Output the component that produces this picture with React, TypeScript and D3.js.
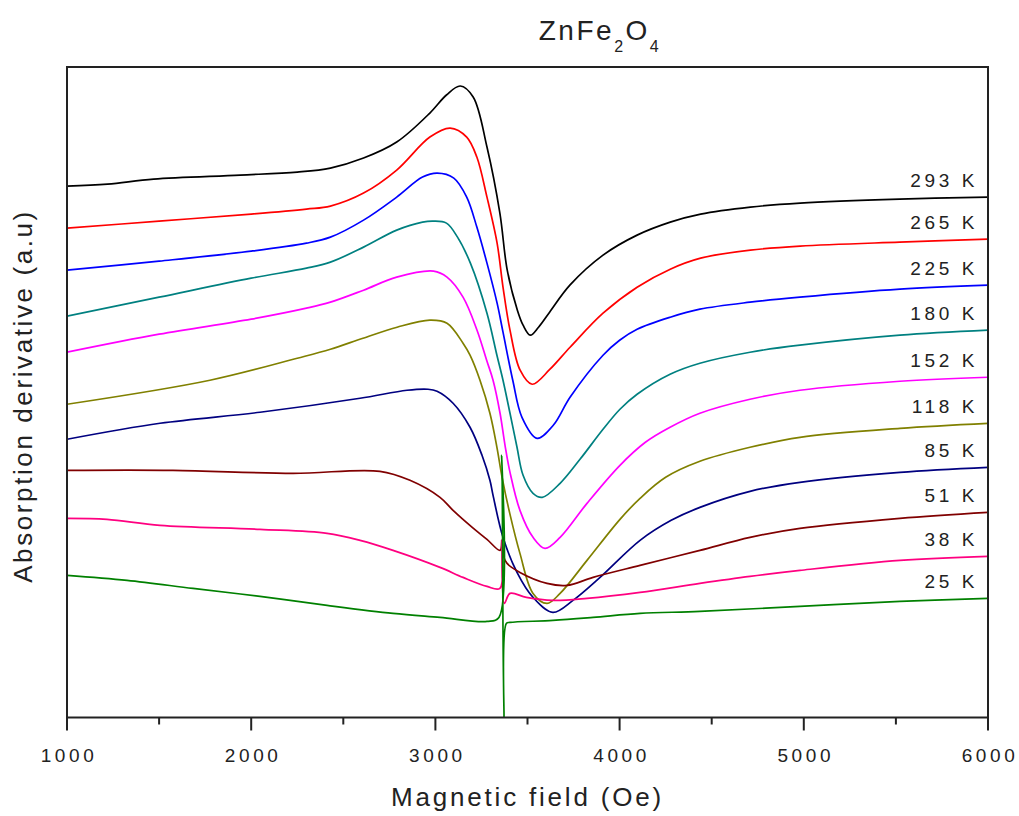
import React from "react";
import * as d3 from "d3";

type Pt = [number, number];

// Magnetic field (Oe), absorption derivative (arbitrary units, offset stacked)
const s293K: Pt[] = [[1000,531],[1220,533],[1470,538],[1940,542],[2250,545],[2430,549],[2610,559],[2790,575],[2970,604],[3060,622],[3135,631],[3205,620],[3280,570],[3350,504],[3390,447],[3445,407],[3476,392],[3515,382],[3560,390],[3620,405],[3730,432],[3910,462],[4095,482],[4275,495],[4440,503],[4710,510],[4980,514],[5520,518],[6000,520]];
const s265K: Pt[] = [[1000,489],[1500,496],[2000,503],[2300,508],[2430,511],[2610,524],[2790,547],[2970,580],[3080,589],[3170,580],[3225,560],[3280,520],[3335,474],[3367,430],[3405,387],[3460,347],[3525,333],[3622,348],[3731,370],[3910,404],[4095,430],[4275,448],[4440,459],[4710,467],[4980,471],[5520,475],[6000,478]];
const s225K: Pt[] = [[1000,447],[1500,456],[2000,466],[2300,474],[2430,480],[2610,497],[2790,520],[2930,540],[3010,544],[3100,539],[3170,520],[3225,490],[3280,454],[3335,414],[3367,385],[3420,337],[3470,300],[3552,279],[3640,292],[3731,320],[3910,362],[4000,377],[4095,388],[4275,400],[4436,408],[4708,415],[4979,420],[5522,428],[6000,432]];
const s180K: Pt[] = [[1000,401],[1500,420],[2000,439],[2300,449],[2430,455],[2610,470],[2790,487],[2930,495],[2990,496],[3060,494],[3120,480],[3190,454],[3280,404],[3334,362],[3367,337],[3405,304],[3443,270],[3476,242],[3530,224],[3580,220],[3677,234],[3785,258],[3910,288],[4002,308],[4095,323],[4274,343],[4436,354],[4708,365],[4979,372],[5522,382],[6000,387]];
const s152K: Pt[] = [[1000,365],[1500,383],[2000,398],[2300,409],[2430,415],[2610,427],[2790,440],[2990,446],[3063,440],[3150,420],[3226,387],[3280,356],[3313,337],[3351,304],[3378,272],[3405,245],[3459,207],[3530,180],[3595,169],[3677,180],[3823,214],[4002,252],[4140,275],[4274,290],[4436,304],[4708,318],[4979,327],[5522,336],[6000,340]];
const s118K: Pt[] = [[1000,313],[1776,337],[2250,359],[2430,368],[2607,379],[2792,390],[2970,397],[3063,394],[3150,374],[3188,362],[3242,337],[3296,304],[3334,270],[3362,240],[3405,203],[3459,164],[3530,124],[3606,114],[3677,124],[3823,157],[4002,198],[4111,219],[4250,240],[4436,256],[4708,270],[4979,280],[5522,289],[6000,294]];
const s85K: Pt[] = [[1000,278],[1505,294],[2048,305],[2591,319],[2846,327],[2960,328],[3009,326],[3096,314],[3188,290],[3253,262],[3296,237],[3313,222],[3367,180],[3443,145],[3530,120],[3638,105],[3747,117],[3894,140],[4111,177],[4280,197],[4436,210],[4708,226],[4979,235],[5522,245],[6000,250]];
const s51K: Pt[] = [[1000,247],[1575,247],[2227,244],[2699,246],[2862,237],[3025,220],[3096,207],[3200,190],[3280,178],[3351,167],[3362,177],[3372,160],[3389,154],[3459,145],[3606,134],[3714,132],[3856,140],[4111,152],[4436,167],[4708,180],[4979,189],[5522,199],[6000,205]];
const s38K: Pt[] = [[1000,199],[1217,198],[1505,192],[2048,188],[2412,184],[2591,177],[2770,167],[3025,150],[3150,140],[3280,131],[3350,129],[3360,177],[3374,114],[3405,124],[3494,120],[3638,117],[3823,119],[4111,125],[4436,134],[4708,141],[4979,147],[5522,157],[6000,161]];
const s25K: Pt[] = [[1000,142],[1326,137],[1684,129],[2048,121],[2412,112],[2770,104],[3025,100],[3280,96],[3345,100],[3360,262],[3372,0],[3385,94],[3405,95],[3638,97],[3856,100],[4111,104],[4436,106],[4979,111],[5522,116],[6000,119]];

const seriesData: Pt[][] = [s293K, s265K, s225K, s180K, s152K, s118K, s85K, s51K, s38K, s25K];
const temperatures: string[] = ["293 K", "265 K", "225 K", "180 K", "152 K", "118 K", "85 K", "51 K", "38 K", "25 K"];
const colors: string[] = ["#000000", "#ff0000", "#0000ff", "#008080", "#ff00ff", "#808000", "#000080", "#800000", "#ff0080", "#008000"];

const xTicks: number[] = [1000, 2000, 3000, 4000, 5000, 6000];
const xMinorTicks: number[] = [1500, 2500, 3500, 4500, 5500];

const W = 1019, H = 816;
const L = 67, R = 988, T = 67, B = 717.5;

export default function App() {
  const x = d3.scaleLinear().domain([1000, 6000]).range([L, R]);
  const y = d3.scaleLinear().domain([0, 650]).range([B, T]);
  const line = d3.line<Pt>().x(d => x(d[0])).y(d => y(d[1])).curve(d3.curveCatmullRom.alpha(0.5));
  const font = "'Liberation Sans', Arial, sans-serif";

  return (
    <svg width={W} height={H} style={{ position: "absolute", left: 0, top: 0, background: "#fff" }} fontFamily={font}>
      <defs>
        <clipPath id="plotclip">
          <rect x={L} y={T} width={R - L} height={B - T} />
        </clipPath>
      </defs>
      <g clipPath="url(#plotclip)">
        {seriesData.map((s, i) => (
          <path key={i} d={line(s) || ""} fill="none" stroke={colors[i]} strokeWidth={1.7} strokeLinejoin="round" />
        ))}
      </g>
      {seriesData.map((s, i) => (
        <text key={"l" + i} x={978} y={y(s[s.length - 1][1]) - 17} textAnchor="end" dominantBaseline="central"
          fontSize={19} letterSpacing={3.6} fill="#222">{temperatures[i]}</text>
      ))}
      <rect x={L} y={T} width={R - L} height={B - T} fill="none" stroke="#222" strokeWidth={2} />
      {xTicks.map(t => (
        <g key={"t" + t}>
          <line x1={x(t)} x2={x(t)} y1={B} y2={B + 13} stroke="#222" strokeWidth={2} />
          <text x={x(t) + 2} y={762} textAnchor="middle" fontSize={19} letterSpacing={3.6} fill="#222">{t}</text>
        </g>
      ))}
      {xMinorTicks.map(t => (
        <line key={"m" + t} x1={x(t)} x2={x(t)} y1={B} y2={B + 7} stroke="#222" strokeWidth={2} />
      ))}
      <text x={(L + R) / 2} y={806} textAnchor="middle" fontSize={26} letterSpacing={2.8} fill="#222">Magnetic field (Oe)</text>
      <text transform={`translate(32, 396) rotate(-90)`} textAnchor="middle" fontSize={26} letterSpacing={2.6} fill="#222">Absorption derivative (a.u)</text>
      <text x={600} y={40} textAnchor="middle" fontSize={28} letterSpacing={2.5} fill="#222">
        ZnFe<tspan fontSize={16} dy={12}>2</tspan><tspan dy={-12}>O</tspan><tspan fontSize={16} dy={12}>4</tspan>
      </text>
    </svg>
  );
}
